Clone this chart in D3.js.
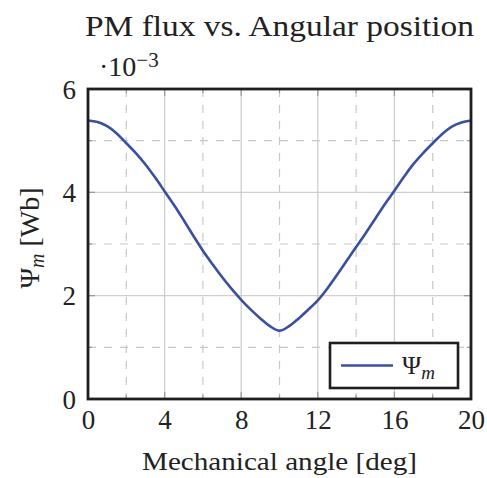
<!DOCTYPE html>
<html>
<head>
<meta charset="utf-8">
<script src="https://cdn.jsdelivr.net/npm/d3@7"></script>
<style>
  body { margin: 0; background: #fff; }
  svg text { font-family: "Liberation Serif", "Times New Roman", serif; fill: #222; }
</style>
</head>
<body>
<svg id="chart" width="487" height="478"></svg>
<script>
// mechanical angle [deg] and PM flux [1e-3 Wb]
var angle = [0, 0.5, 1, 1.5, 2, 2.5, 3, 3.5, 4, 4.5, 5, 5.5, 6, 6.5, 7, 7.5, 8, 8.5, 9, 9.5, 10,
             10.5, 11, 11.5, 12, 12.5, 13, 13.5, 14, 14.5, 15, 15.5, 16, 16.5, 17, 17.5, 18, 18.5, 19, 19.5, 20];
var flux = [5.39, 5.36, 5.28, 5.14, 4.95, 4.76, 4.54, 4.29, 4.02, 3.75, 3.46, 3.16, 2.87, 2.61, 2.36, 2.13, 1.92, 1.73, 1.56, 1.41, 1.32,
            1.41, 1.56, 1.73, 1.91, 2.14, 2.40, 2.67, 2.94, 3.21, 3.49, 3.77, 4.03, 4.30, 4.55, 4.76, 4.95, 5.13, 5.27, 5.35, 5.39];
var xTicks = [0, 4, 8, 12, 16, 20];
var xMinor = [2, 6, 10, 14, 18];
var yTicks = [0, 2, 4, 6];
var yMinor = [1, 3, 5];

var data = angle.map(function(a, i){ return {angle: a, flux: flux[i]}; });

var svg = d3.select("#chart");
var pLeft = 88, pRight = 471, pTop = 89, pBottom = 399;

var xScale = d3.scaleLinear().domain([0, 20]).range([pLeft, pRight]);
var yScale = d3.scaleLinear().domain([0, 6]).range([pBottom, pTop]);

// grid
var grid = svg.append("g");
grid.selectAll("line.vmaj")
	.data(xTicks.slice(1, -1))
	.enter().append("line")
	.attr("x1", function(d){return xScale(d);}).attr("x2", function(d){return xScale(d);})
	.attr("y1", pTop).attr("y2", pBottom)
	.attr("stroke", "#cfcfcf").attr("stroke-width", 1.3);
grid.selectAll("line.hmaj")
	.data(yTicks.slice(1, -1))
	.enter().append("line")
	.attr("y1", function(d){return yScale(d);}).attr("y2", function(d){return yScale(d);})
	.attr("x1", pLeft).attr("x2", pRight)
	.attr("stroke", "#cfcfcf").attr("stroke-width", 1.3);
grid.selectAll("line.vmin")
	.data(xMinor)
	.enter().append("line")
	.attr("x1", function(d){return xScale(d);}).attr("x2", function(d){return xScale(d);})
	.attr("y1", pTop).attr("y2", pBottom)
	.attr("stroke", "#c8c8c8").attr("stroke-width", 1.2).attr("stroke-dasharray", "8,8");
grid.selectAll("line.hmin")
	.data(yMinor)
	.enter().append("line")
	.attr("y1", function(d){return yScale(d);}).attr("y2", function(d){return yScale(d);})
	.attr("x1", pLeft).attr("x2", pRight)
	.attr("stroke", "#c8c8c8").attr("stroke-width", 1.2).attr("stroke-dasharray", "8,8");

// inward ticks on all four sides
function ticksX(vals, len){
	vals.forEach(function(v){
		svg.append("line").attr("x1", xScale(v)).attr("x2", xScale(v))
			.attr("y1", pBottom).attr("y2", pBottom - len).attr("stroke", "#999").attr("stroke-width", 1.2);
		svg.append("line").attr("x1", xScale(v)).attr("x2", xScale(v))
			.attr("y1", pTop).attr("y2", pTop + len).attr("stroke", "#999").attr("stroke-width", 1.2);
	});
}
function ticksY(vals, len){
	vals.forEach(function(v){
		svg.append("line").attr("y1", yScale(v)).attr("y2", yScale(v))
			.attr("x1", pLeft).attr("x2", pLeft + len).attr("stroke", "#999").attr("stroke-width", 1.2);
		svg.append("line").attr("y1", yScale(v)).attr("y2", yScale(v))
			.attr("x1", pRight).attr("x2", pRight - len).attr("stroke", "#999").attr("stroke-width", 1.2);
	});
}
ticksX(xTicks, 7); ticksX(xMinor, 4);
ticksY(yTicks, 7); ticksY(yMinor, 4);

// curve
var line = d3.line()
	.x(function(d){return xScale(d.angle);})
	.y(function(d){return yScale(d.flux);})
	.curve(d3.curveCatmullRom.alpha(0.5));

svg.append("path")
	.datum(data)
	.attr("d", line)
	.attr("fill", "none")
	.attr("stroke", "#3a4fa2")
	.attr("stroke-width", 2.6);

// frame
svg.append("rect")
	.attr("x", pLeft).attr("y", pTop)
	.attr("width", pRight - pLeft).attr("height", pBottom - pTop)
	.attr("fill", "none").attr("stroke", "#1e1e1e").attr("stroke-width", 2.8);

// tick labels via axes, lines hidden
var xAxis = svg.append("g")
	.attr("transform", "translate(0," + pBottom + ")")
	.call(d3.axisBottom(xScale).tickValues(xTicks).tickFormat(d3.format("d")).tickSize(0).tickPadding(30));
xAxis.select(".domain").remove();
xAxis.selectAll("text").attr("font-size", 27).attr("dy", 0).attr("fill", "#222");

var yAxis = svg.append("g")
	.attr("transform", "translate(" + pLeft + ",0)")
	.call(d3.axisLeft(yScale).tickValues(yTicks).tickFormat(d3.format("d")).tickSize(0).tickPadding(12));
yAxis.select(".domain").remove();
yAxis.selectAll("text").attr("font-size", 27).attr("dy", "0.34em").attr("fill", "#222");

// exponent
var expo = svg.append("text").attr("x", 99).attr("y", 76).attr("font-size", 28);
expo.append("tspan").text("\u00b710");
expo.append("tspan").attr("dy", -9).attr("font-size", 21).text("\u22123");

// title
svg.append("text")
	.attr("x", (pLeft + pRight) / 2).attr("y", 36)
	.attr("text-anchor", "middle").attr("font-size", 29)
	.attr("textLength", 389).attr("lengthAdjust", "spacingAndGlyphs")
	.text("PM flux vs. Angular position");

// x label
svg.append("text")
	.attr("x", (pLeft + pRight) / 2).attr("y", 470)
	.attr("text-anchor", "middle").attr("font-size", 26)
	.attr("textLength", 275).attr("lengthAdjust", "spacingAndGlyphs")
	.text("Mechanical angle [deg]");

// y label
var yl = svg.append("text")
	.attr("transform", "translate(39,238) rotate(-90)")
	.attr("text-anchor", "middle").attr("font-size", 28);
yl.append("tspan").text("\u03a8");
yl.append("tspan").attr("dy", 5).attr("font-size", 20).attr("font-style", "italic").text("m");
yl.append("tspan").attr("dy", -5).text(" [Wb]");

// legend
var lg = svg.append("g");
lg.append("rect")
	.attr("x", 330).attr("y", 343).attr("width", 128).attr("height", 45)
	.attr("fill", "#fff").attr("stroke", "#1e1e1e").attr("stroke-width", 2.6);
lg.append("line")
	.attr("x1", 341).attr("x2", 393).attr("y1", 365.5).attr("y2", 365.5)
	.attr("stroke", "#3a4fa2").attr("stroke-width", 2.6);
var lt = lg.append("text").attr("x", 402).attr("y", 374).attr("font-size", 26);
lt.append("tspan").text("\u03a8");
lt.append("tspan").attr("dy", 5).attr("font-size", 19).attr("font-style", "italic").text("m");
</script>
</body>
</html>
